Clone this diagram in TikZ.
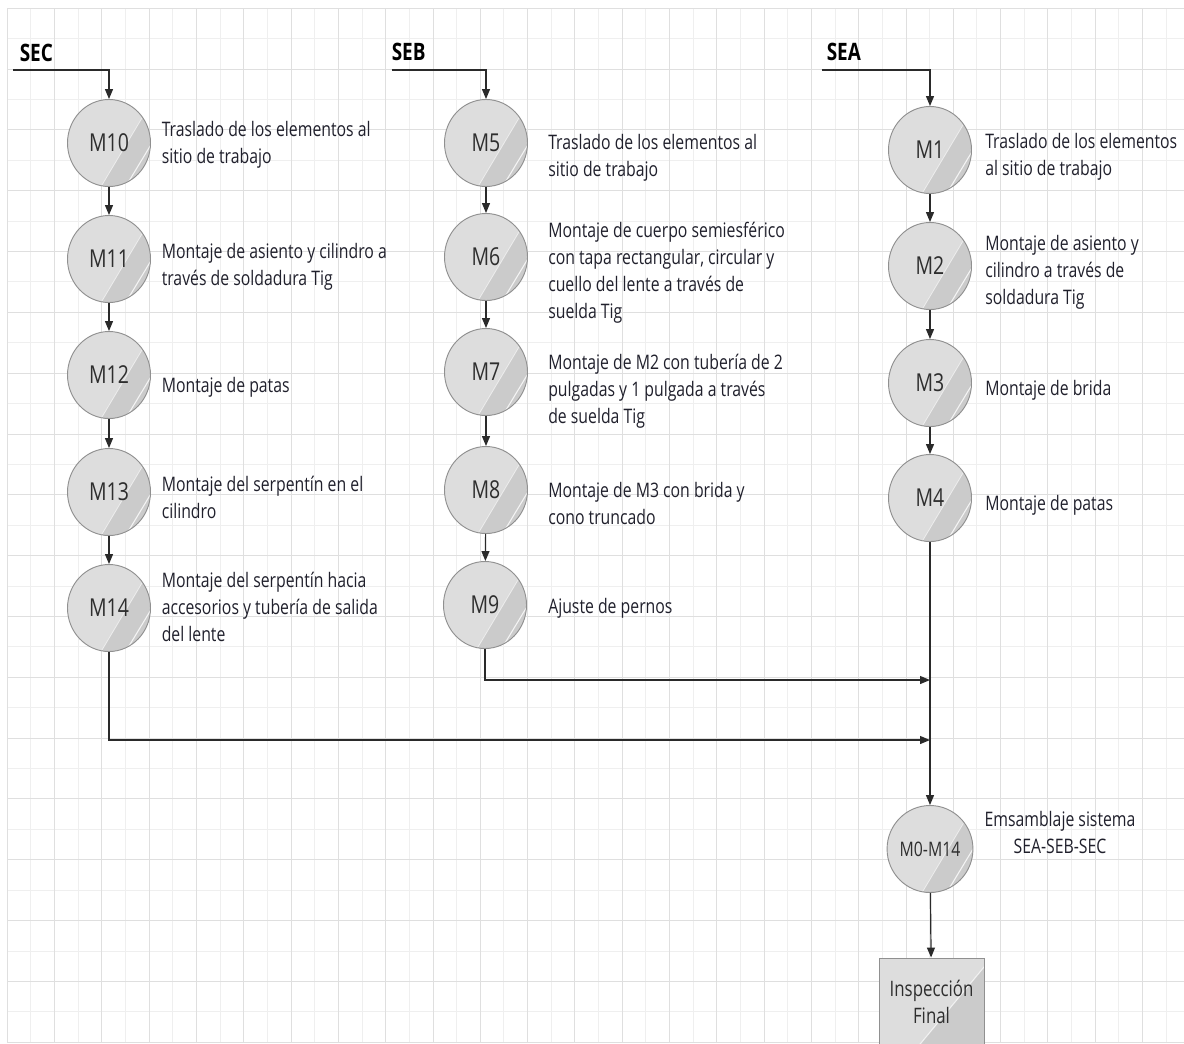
\documentclass[tikz,border=0pt]{standalone}
\usepackage{fontspec}
\setmainfont{Open Sans}[FakeStretch=0.79]
\usetikzlibrary{arrows.meta,shapes.geometric,calc}
\definecolor{gridD}{HTML}{DFDFDF}
\definecolor{gridL}{HTML}{EFEFEF}
\definecolor{nodefill}{HTML}{DDDDDD}
\definecolor{streakc}{HTML}{CBCBCB}
\definecolor{nodeedge}{HTML}{909090}
\definecolor{lnk}{HTML}{2A2A2A}
\definecolor{txt}{HTML}{20202C}
\definecolor{lbl}{HTML}{2E2E2E}
\begin{document}
\begin{tikzpicture}[x=0.75pt,y=-0.75pt,
  glint/.style={path picture={
    \fill[streakc] ($(path picture bounding box.center)+(-7,42)$) -- ($(path picture bounding box.center)+(33,-25)$) -- ++(40,0) -- ++(0,80) -- ++(-80,0) -- cycle;
    \draw[white,opacity=.6,line width=.6pt] ($(path picture bounding box.center)+(-7,42)$) -- ($(path picture bounding box.center)+(33,-25)$);
    \draw[white,opacity=.8,line width=.8pt] ($(path picture bounding box.center)+(14,48)$) -- ($(path picture bounding box.center)+(46,-5)$);
  }},
  boxglint/.style={path picture={
    \fill[streakc] ($(path picture bounding box.center)+(-13,44)$) -- ($(path picture bounding box.center)+(60,-44)$) -- ++(20,0) -- ++(0,100) -- ++(-100,0) -- cycle;
    \draw[white,opacity=.7,line width=.8pt] ($(path picture bounding box.center)+(-13,44)$) -- ($(path picture bounding box.center)+(60,-44)$);
  }},
  proc/.style={ellipse, minimum width=62.25pt, minimum height=65.25pt, inner sep=0pt,
    draw=nodeedge, line width=0.7pt, fill=nodefill, glint, text=lbl,
    font=\fontsize{18.5}{22}\selectfont},
  desc/.style={align=left, inner sep=0pt, text=txt, font=\fontsize{15}{20.2}\selectfont},
  hdr/.style={inner sep=0pt, text=black, font=\bfseries\fontsize{18}{21}\selectfont},
  conn/.style={draw=lnk, line width=0.9pt, -{Triangle[length=7.5pt,width=6pt]}},
]
\useasboundingbox (0,0) rectangle (1184,1043);
\clip (0,0) rectangle (1184,1043);
\fill[white] (0,0) rectangle (1184,1043);
% grid
\foreach \k in {1,3,...,49} {\draw[gridL,line width=0.75pt] ({7.3+\k*23.65},8.3) -- ({7.3+\k*23.65},1043);}
\foreach \j in {1,3,...,33} {\draw[gridL,line width=0.75pt] (7.3,{8.3+\j*30.41}) -- (1184,{8.3+\j*30.41});}
\foreach \k in {0,2,...,48} {\draw[gridD,line width=0.75pt] ({7.3+\k*23.65},8.3) -- ({7.3+\k*23.65},1043);}
\foreach \j in {0,2,...,34} {\draw[gridD,line width=0.75pt] (7.3,{8.3+\j*30.41}) -- (1184,{8.3+\j*30.41});}

% headers
\node[hdr,anchor=base west] (hsec) at (19.5,61) {SEC};
\node[hdr,anchor=base west] (hseb) at (391.5,60) {SEB};
\node[hdr,anchor=base west] (hsea) at (826.5,60) {SEA};
\coordinate (lsec) at (13,70);
\coordinate (lseb) at (391.5,70);
\coordinate (lsea) at (821.5,70);

% SEC column
\node[proc] (M10) at (109,143) {M10};
\node[proc] (M11) at (109,259) {M11};
\node[proc] (M12) at (109,375) {M12};
\node[proc] (M13) at (109,492) {M13};
\node[proc] (M14) at (109,608) {M14};
\node[desc,anchor=north west] (d10) at (161.5,120.8) {Traslado de los elementos al\\sitio de trabajo};
\node[desc,anchor=north west] (d11) at (161.5,242.8) {Montaje de asiento y cilindro a\\través de soldadura Tig};
\node[desc,anchor=north west] (d12) at (161.5,376.8) {Montaje de patas};
\node[desc,anchor=north west] (d13) at (161.5,475.8) {Montaje del serpentín en el\\cilindro};
\node[desc,anchor=north west] (d14) at (161.5,571.8) {Montaje del serpentín hacia\\accesorios y tubería de salida\\del lente};

% SEB column
\node[proc] (M5) at (486,143) {M5};
\node[proc] (M6) at (486,257) {M6};
\node[proc] (M7) at (486,372) {M7};
\node[proc] (M8) at (486,490) {M8};
\node[proc] (M9) at (485,605) {M9};
\node[desc,anchor=north west] (d5) at (548,133.8) {Traslado de los elementos al\\sitio de trabajo};
\node[desc,anchor=north west] (d6) at (548,222.3) {Montaje de cuerpo semiesférico\\con tapa rectangular, circular y\\cuello del lente a través de\\suelda Tig};
\node[desc,anchor=north west] (d7) at (548,353.8) {Montaje de M2 con tubería de 2\\pulgadas y 1 pulgada a través\\de suelda Tig};
\node[desc,anchor=north west] (d8) at (548,481.8) {Montaje de M3 con brida y\\cono truncado};
\node[desc,anchor=north west] (d9) at (548,597.8) {Ajuste de pernos};

% SEA column
\node[proc] (M1) at (930,150) {M1};
\node[proc] (M2) at (930,266) {M2};
\node[proc] (M3) at (930,383) {M3};
\node[proc] (M4) at (930,498) {M4};
\node[desc,anchor=north west] (d1) at (985,133.3) {Traslado de los elementos\\al sitio de trabajo};
\node[desc,anchor=north west] (d2) at (985,234.8) {Montaje de asiento y\\cilindro a través de\\soldadura Tig};
\node[desc,anchor=north west] (d3) at (985,379.8) {Montaje de brida};
\node[desc,anchor=north west] (d4) at (985,495.3) {Montaje de patas};

% assembly
\node[proc,font=\fontsize{15}{18}\selectfont] (M0) at (930,849) {M0-M14};
\node[desc,align=center,anchor=north] (d0) at (1060,811.5) {Emsamblaje sistema\\SEA-SEB-SEC};
\node[rectangle, minimum width=78.75pt, minimum height=66pt, inner sep=0pt, draw=nodeedge, line width=0.7pt,
  fill=nodefill, boxglint, text=lbl, align=center, font=\fontsize{16}{20}\selectfont] (insp) at (931.5,1002) {Inspección\\Final};

\coordinate (jB) at (930,680);
\coordinate (jC) at (930,740);

% connectors
\draw[conn] (lsec) -| (M10);
\draw[conn] (M10) -- (M11);
\draw[conn] (M11) -- (M12);
\draw[conn] (M12) -- (M13);
\draw[conn] (M13) -- (M14);
\draw[conn] (lseb) -| (M5);
\draw[conn] (M5) -- (M6);
\draw[conn] (M6) -- (M7);
\draw[conn] (M7) -- (M8);
\draw[conn] (M8) -- (M9);
\draw[conn] (lsea) -| (M1);
\draw[conn] (M1) -- (M2);
\draw[conn] (M2) -- (M3);
\draw[conn] (M3) -- (M4);
\draw[conn] (M4) -- (M0);
\draw[conn] (M9) |- (jB);
\draw[conn] (M14) |- (jC);
\draw[conn] (M0) -- (insp);
\end{tikzpicture}
\end{document}
